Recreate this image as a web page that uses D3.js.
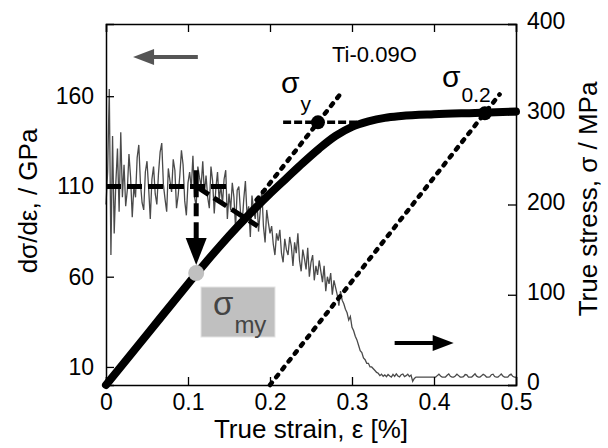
<!DOCTYPE html>
<html>
<head>
<meta charset="utf-8">
<script src="https://cdn.jsdelivr.net/npm/d3@7"></script>
<style>
  body { margin: 0; background: #fff; }
  text { font-family: "Liberation Sans", Arial, sans-serif; }
</style>
</head>
<body>
<div id="chart"></div>
<script>
// stress-strain curve (right axis, MPa)
var strain = [0, 0.05, 0.10, 0.12, 0.14, 0.16, 0.18, 0.20, 0.22, 0.24, 0.26, 0.28, 0.30, 0.32, 0.34, 0.36, 0.40, 0.45, 0.50];
var stress = [0, 56, 112, 134, 155, 175, 194, 212, 229, 246, 262, 276, 286, 292, 296, 298, 300, 301.5, 303];

// dσ/dε (left axis, GPa), one value every modStep of strain
var modStep = 0.002;
var modulus = [
  100, 118, 164, 72, 138, 84, 112, 131, 96, 140, 104,
  122, 99, 108, 128, 115, 93, 110, 104, 126, 133,
  112, 101, 97, 118, 124, 109, 92, 114, 121, 106,
  100, 117, 129, 134, 111, 103, 96, 120, 113, 107,
  125, 119, 98, 105, 116, 130, 122, 102, 94, 112,
  118, 109, 127, 104, 99, 121, 115, 110, 124, 106,
  116, 104, 98, 121, 113, 95, 109, 118, 102, 111,
  100, 114, 119, 92, 106, 97, 112, 104, 87, 108,
  110, 96, 89, 103, 113, 94, 99, 82, 105, 97,
  92, 104, 85, 96, 108, 88, 79, 97, 90, 84,
  88, 78, 72, 84, 80, 86, 73, 68, 81, 75,
  72, 82, 77, 66, 79, 73, 84, 69, 63, 75,
  70, 64, 76, 60, 68, 72, 58, 66, 61, 69,
  63, 57, 66, 52, 60, 56, 62, 50, 58, 54,
  50, 44, 52, 47, 45, 42, 40, 36, 38, 32, 30, 27, 25, 22, 19, 18, 15, 14, 12, 12, 10, 10, 9, 8, 7,
  6.5, 5.2, 6, 4.8, 5.6, 4.6, 5.8, 5, 4.4, 5.9,
  4.8, 6.2, 5, 4.5, 5.7, 6.1, 4.6, 5.2, 6, 4.7, 5.5, 2, 3.6, 4.4, 4.4, 4.4, 4.4, 4.4, 4.4, 4.4, 4.4, 4.4, 4.4, 4.4, 4.4,
  4.4, 5.2, 6, 5, 4.4, 4.4, 4.4, 5.4, 6.1, 4.8,
  4.4, 4.4, 5, 6, 5.2, 4.4, 4.4, 4.6, 5.8, 5.6,
  4.4, 4.4, 4.4, 5.3, 6.2, 4.9, 4.4, 4.4, 5.1, 5.9,
  5.4, 4.4, 4.4, 4.5, 5.7, 6, 4.7, 4.4, 4.4, 5.2,
  6.1, 5, 4.4, 4.4, 4.4, 5.5, 6, 4.8, 4.4, 4.4
];

// tick values
var xTicks = [0, 0.1, 0.2, 0.3, 0.4, 0.5];
var xTickLabels = ["0", "0.1", "0.2", "0.3", "0.4", "0.5"];
var leftTicks = [10, 60, 110, 160];
var rightTicks = [0, 100, 200, 300, 400];

// construction lines
var youngs = 1150;           // MPa per % strain
var sigmaY = [0.2585, 291];  // strain, stress
var sigma02 = [0.462, 301];
var myStrain = 0.11, myModulus = 110, myStress = 124;

var margin = {top: 24, right: 92, bottom: 63, left: 106},
    width = 608 - margin.left - margin.right,
    height = 448 - margin.top - margin.bottom;

var svg = d3.select("#chart")
  .append("svg")
    .attr("width", 608)
    .attr("height", 448)
  .append("g")
    .attr("transform", "translate(" + margin.left + "," + margin.top + ")");

var x = d3.scaleLinear().domain([0, 0.5]).range([0, width]);
var yL = d3.scaleLinear().domain([0, 200]).range([height, 0]);
var yR = d3.scaleLinear().domain([0, 400]).range([height, 0]);

// modulus trace
var modLine = d3.line()
  .x(function(d, i) { return x(i * modStep); })
  .y(function(d) { return yL(d); });

svg.append("path")
  .datum(modulus)
  .attr("d", modLine)
  .attr("fill", "none")
  .attr("stroke", "#4a4a4a")
  .attr("stroke-width", 1.3);

// dashed lines on the modulus
svg.append("line")
  .attr("x1", x(0)).attr("x2", x(0.149))
  .attr("y1", yL(myModulus)).attr("y2", yL(myModulus))
  .attr("stroke", "#000").attr("stroke-width", 5)
  .attr("stroke-dasharray", "15,6");

svg.append("line")
  .attr("x1", x(myStrain)).attr("x2", x(0.185))
  .attr("y1", yL(myModulus)).attr("y2", yL(88))
  .attr("stroke", "#000").attr("stroke-width", 5)
  .attr("stroke-dasharray", "15,6");

// vertical arrow down to the curve
svg.append("line")
  .attr("x1", x(myStrain)).attr("x2", x(myStrain))
  .attr("y1", yL(119)).attr("y2", yL(81.4))
  .attr("stroke", "#000").attr("stroke-width", 5)
  .attr("stroke-dasharray", "27,6,13,6,20");

svg.append("path")
  .attr("d", "M" + (x(myStrain) - 10.5) + "," + yL(81.4) +
             "L" + (x(myStrain) + 10.5) + "," + yL(81.4) +
             "L" + x(myStrain) + "," + yL(66.5) + "Z")
  .attr("fill", "#000");

// dotted construction lines
svg.append("line")
  .attr("x1", x(sigmaY[0] + (205 - sigmaY[1]) / youngs)).attr("y1", yR(205))
  .attr("x2", x(sigmaY[0] + (322 - sigmaY[1]) / youngs)).attr("y2", yR(322))
  .attr("stroke", "#000").attr("stroke-width", 4.5)
  .attr("stroke-linecap", "round")
  .attr("stroke-dasharray", "3,7");

svg.append("line")
  .attr("x1", x(0.2)).attr("y1", yR(0))
  .attr("x2", x(0.2 + 322 / youngs)).attr("y2", yR(322))
  .attr("stroke", "#000").attr("stroke-width", 4.5)
  .attr("stroke-linecap", "round")
  .attr("stroke-dasharray", "3,7");

svg.append("line")
  .attr("x1", x(0.216)).attr("x2", x(0.306))
  .attr("y1", yR(sigmaY[1])).attr("y2", yR(sigmaY[1]))
  .attr("stroke", "#000").attr("stroke-width", 3.5)
  .attr("stroke-dasharray", "8,3");

// stress-strain curve
var stressLine = d3.line()
  .x(function(d, i) { return x(strain[i]); })
  .y(function(d) { return yR(d); })
  .curve(d3.curveMonotoneX);

svg.append("path")
  .datum(stress)
  .attr("d", stressLine)
  .attr("fill", "none")
  .attr("stroke", "#000")
  .attr("stroke-width", 8)
  .attr("stroke-linecap", "round");

// markers
svg.append("circle").attr("cx", x(sigmaY[0])).attr("cy", yR(sigmaY[1])).attr("r", 7).attr("fill", "#000");
svg.append("circle").attr("cx", x(sigma02[0])).attr("cy", yR(sigma02[1])).attr("r", 7).attr("fill", "#000");
svg.append("circle").attr("cx", x(myStrain)).attr("cy", yR(myStress)).attr("r", 8).attr("fill", "#c0c0c0");

// direction arrows
svg.append("line")
  .attr("x1", x(0.112)).attr("x2", x(0.05))
  .attr("y1", yL(181.7)).attr("y2", yL(181.7))
  .attr("stroke", "#555").attr("stroke-width", 4);
svg.append("path")
  .attr("d", "M" + x(0.033) + "," + yL(181.7) +
             "L" + (x(0.033) + 21) + "," + (yL(181.7) - 8) +
             "L" + (x(0.033) + 21) + "," + (yL(181.7) + 8) + "Z")
  .attr("fill", "#555");

svg.append("line")
  .attr("x1", x(0.352)).attr("x2", x(0.41))
  .attr("y1", yR(46.5)).attr("y2", yR(46.5))
  .attr("stroke", "#000").attr("stroke-width", 4);
svg.append("path")
  .attr("d", "M" + x(0.424) + "," + yR(46.5) +
             "L" + (x(0.424) - 21) + "," + (yR(46.5) - 8) +
             "L" + (x(0.424) - 21) + "," + (yR(46.5) + 8) + "Z")
  .attr("fill", "#000");

// axes
svg.append("g")
  .attr("transform", "translate(0," + height + ")")
  .call(d3.axisBottom(x).tickValues(xTicks).tickSize(-8).tickPadding(9)
    .tickFormat(function(d, i) { return xTickLabels[i]; }));

svg.append("g")
  .call(d3.axisTop(x).tickValues(xTicks).tickSize(-8).tickFormat(""));

svg.append("g")
  .call(d3.axisLeft(yL).tickValues(leftTicks).tickSize(-8).tickPadding(12));

var rightAxis = svg.append("g")
  .attr("transform", "translate(" + width + ",0)")
  .call(d3.axisRight(yR).tickValues(rightTicks).tickSize(-8).tickPadding(11));
rightAxis.selectAll(".tick text").attr("dy", "0.2em");

svg.selectAll(".domain").attr("stroke", "#000").attr("stroke-width", 1.5);
svg.selectAll(".tick line").attr("stroke", "#000").attr("stroke-width", 1.3);
svg.selectAll(".tick text")
  .attr("font-size", 23)
  .attr("fill", "#000")
  .style("font-family", "'Liberation Sans', Arial, sans-serif");

// axis titles
svg.append("text")
  .attr("transform", "translate(" + (37 - margin.left) + "," + (201 - margin.top) + ") rotate(-90)")
  .attr("text-anchor", "middle")
  .attr("font-size", 26)
  .text("dσ/dε, / GPa");

svg.append("text")
  .attr("transform", "translate(" + (597 - margin.left) + "," + (199 - margin.top) + ") rotate(-90)")
  .attr("text-anchor", "middle")
  .attr("font-size", 26)
  .text("True stress, σ / MPa");

svg.append("text")
  .attr("x", width / 2)
  .attr("y", 438 - margin.top)
  .attr("text-anchor", "middle")
  .attr("font-size", 26)
  .text("True strain, ε [%]");

// annotations
svg.append("text")
  .attr("x", 332 - margin.left).attr("y", 62 - margin.top)
  .attr("font-size", 22)
  .text("Ti-0.09O");

var sy = svg.append("text").attr("x", 281 - margin.left).attr("y", 93 - margin.top);
sy.append("tspan").attr("font-size", 30).text("σ");
sy.append("tspan").attr("font-size", 21).attr("dx", 1).attr("dy", 18).text("y");

var s02 = svg.append("text").attr("x", 442 - margin.left).attr("y", 87 - margin.top);
s02.append("tspan").attr("font-size", 30).text("σ");
s02.append("tspan").attr("font-size", 21).attr("dx", 1).attr("dy", 15).text("0.2");

svg.append("rect")
  .attr("x", 201 - margin.left).attr("y", 287 - margin.top)
  .attr("width", 74).attr("height", 50)
  .attr("fill", "#c0c0c0")
  .attr("stroke", "#e4e4e4").attr("stroke-width", 1);

var smy = svg.append("text").attr("x", 213 - margin.left).attr("y", 315 - margin.top).attr("fill", "#444");
smy.append("tspan").attr("font-size", 33).text("σ");
smy.append("tspan").attr("font-size", 24).attr("dx", 1).attr("dy", 18).text("my");
</script>
</body>
</html>
